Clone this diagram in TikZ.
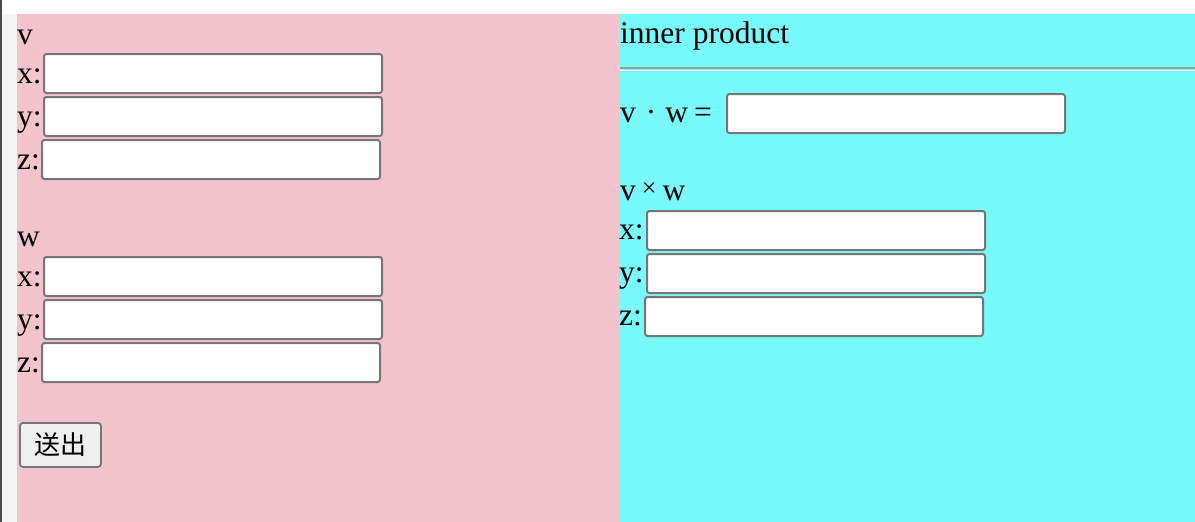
\documentclass[tikz,border=0pt]{standalone}
\usepackage{fontspec}
\setmainfont{Liberation Serif}
\newfontfamily\cjk{Noto Sans CJK SC}
\definecolor{pinkbg}{HTML}{F4C4CD}
\definecolor{cyanbg}{HTML}{78FAFC}
\definecolor{boxline}{HTML}{767676}
\definecolor{btnfill}{HTML}{EFEFEF}
\begin{document}
\begin{tikzpicture}[x=1pt,y=-1pt,
  lbl/.style={anchor=base west,inner sep=0pt,font=\fontsize{31.5}{33}\selectfont},
  inbox/.style={draw=boxline,fill=white,line width=2pt,rounded corners=2.5pt,anchor=north west,minimum width=338pt,minimum height=39pt,inner sep=0pt},
  btn/.style={draw=boxline,fill=btnfill,line width=1.8pt,rounded corners=3pt,anchor=north west,minimum width=81pt,minimum height=44pt,inner sep=0pt,font=\cjk\fontsize{26}{28}\selectfont}]
\useasboundingbox (0,0) rectangle (1195,522);
\fill[white] (0,0) rectangle (1195,522);
\fill[pinkbg] (17,14) rectangle (620,522);
\fill[cyanbg] (620,14) rectangle (1195,522);
\fill[black!70] (0,0) rectangle (2,522);
\fill[black!4] (2,14) rectangle (17,522);
% left panel
\node[lbl] (v) at (17,44) {v};
\node[lbl] (vx) at (17,83) {x:};
\node[inbox] (vxb) at (43,53) {};
\node[lbl] (vy) at (17,126) {y:};
\node[inbox] (vyb) at (43,96) {};
\node[lbl] (vz) at (17,169) {z:};
\node[inbox] (vzb) at (41,139) {};
\node[lbl] (w) at (17,246) {w};
\node[lbl] (wx) at (17,286) {x:};
\node[inbox] (wxb) at (43,256) {};
\node[lbl] (wy) at (17,329) {y:};
\node[inbox] (wyb) at (43,299) {};
\node[lbl] (wz) at (17,372) {z:};
\node[inbox] (wzb) at (41,342) {};
\node[btn] (send) at (19,422) {送出};
% right panel
\node[lbl] (ip) at (620,43) {inner product};
\coordinate (hrl) at (620,68);
\coordinate (hrr) at (1195,68);
\draw[black!40,line width=1.5pt] (hrl) -- (hrr);
\draw[white,line width=1pt] ([yshift=-2pt]hrl) -- ([yshift=-2pt]hrr);
\node[lbl] (dot) at (620,122) {v\hspace{10pt}·\hspace{9pt}w\hspace{6pt}=};
\node[inbox] (dotb) at (726,93) {};
\node[lbl] (cross) at (620,200) {v\hspace{6pt}{\fontsize{26}{28}\selectfont\raisebox{4pt}{×}}\hspace{6pt}w};
\node[lbl] (cx) at (619,239) {x:};
\node[inbox] (cxb) at (646,210) {};
\node[lbl] (cy) at (619,282) {y:};
\node[inbox] (cyb) at (646,253) {};
\node[lbl] (cz) at (619,325) {z:};
\node[inbox] (czb) at (644,296) {};
\end{tikzpicture}
\end{document}
